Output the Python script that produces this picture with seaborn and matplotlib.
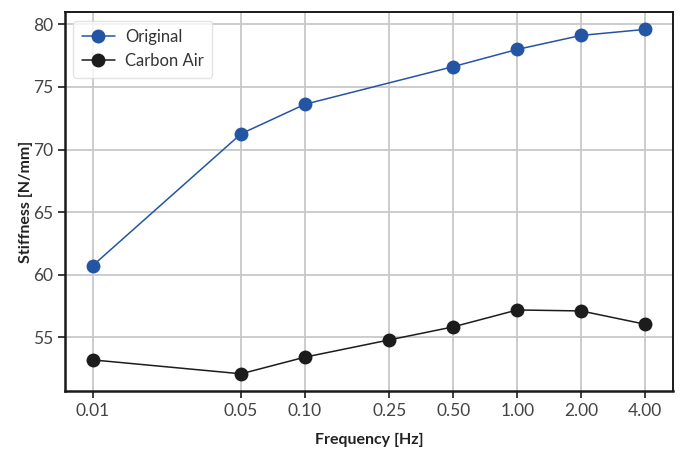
import matplotlib
matplotlib.use("Agg")
import matplotlib.pyplot as plt
import seaborn as sns
import pandas as pd

freq_labels = ["0.01", "0.05", "0.10", "0.25", "0.50", "1.00", "2.00", "4.00"]
freq_ticks = [0.01, 0.05, 0.10, 0.25, 0.50, 1.00, 2.00, 4.00]

orig_freq = [0.01, 0.05, 0.10, 0.50, 1.00, 2.00, 4.00]
orig_stiff = [60.73, 71.26, 73.62, 76.63, 78.0, 79.12, 79.6]

carbon_freq = [0.01, 0.05, 0.10, 0.25, 0.50, 1.00, 2.00, 4.00]
carbon_stiff = [53.2, 52.09, 53.42, 54.8, 55.84, 57.19, 57.11, 56.05]

df = pd.concat([
    pd.DataFrame({"Frequency": orig_freq, "Stiffness": orig_stiff, "Series": "Original"}),
    pd.DataFrame({"Frequency": carbon_freq, "Stiffness": carbon_stiff, "Series": "Carbon Air"}),
])

sns.set_theme(style="whitegrid")
plt.rcParams["font.family"] = ["Lato", "DejaVu Sans"]

fig = plt.figure(figsize=(6.85, 4.51), dpi=100)
ax = fig.add_axes([0.095, 0.133, 0.887, 0.840])

sns.lineplot(data=df, x="Frequency", y="Stiffness", hue="Series",
             palette={"Original": "#2455a4", "Carbon Air": "#1c1c1c"},
             marker="o", markersize=10, markeredgewidth=0, linewidth=1.1, ax=ax)
ax.set_xscale("log")
ax.set_xticks(freq_ticks)
ax.set_xticklabels(freq_labels)
ax.minorticks_off()
ax.set_yticks([55, 60, 65, 70, 75, 80])

ax.grid(True, color="#c8c8c8", linewidth=1.3)
for s in ["left", "bottom"]:
    ax.spines[s].set_color("#1a1a1a")
    ax.spines[s].set_linewidth(1.8)
for s in ["top", "right"]:
    ax.spines[s].set_color("#1a1a1a")
    ax.spines[s].set_linewidth(1.4)
ax.tick_params(axis="both", which="major", length=5, width=1.2, color="#1a1a1a",
               labelsize=12.5, labelcolor="#444444", bottom=True, left=True)

ax.set_xlabel("Frequency [Hz]", fontsize=11.5, fontweight="bold", color="#222222", labelpad=10)
ax.set_ylabel("Stiffness [N/mm]", fontsize=11.5, fontweight="bold", color="#222222", labelpad=0)

leg = ax.legend(loc="upper left", fontsize=12, frameon=True, borderpad=0.5,
                handlelength=2.0, handletextpad=0.6)
leg.get_frame().set_edgecolor("#dddddd")
for t in leg.get_texts():
    t.set_color("#333333")

fig.savefig("out.png", dpi=100)
